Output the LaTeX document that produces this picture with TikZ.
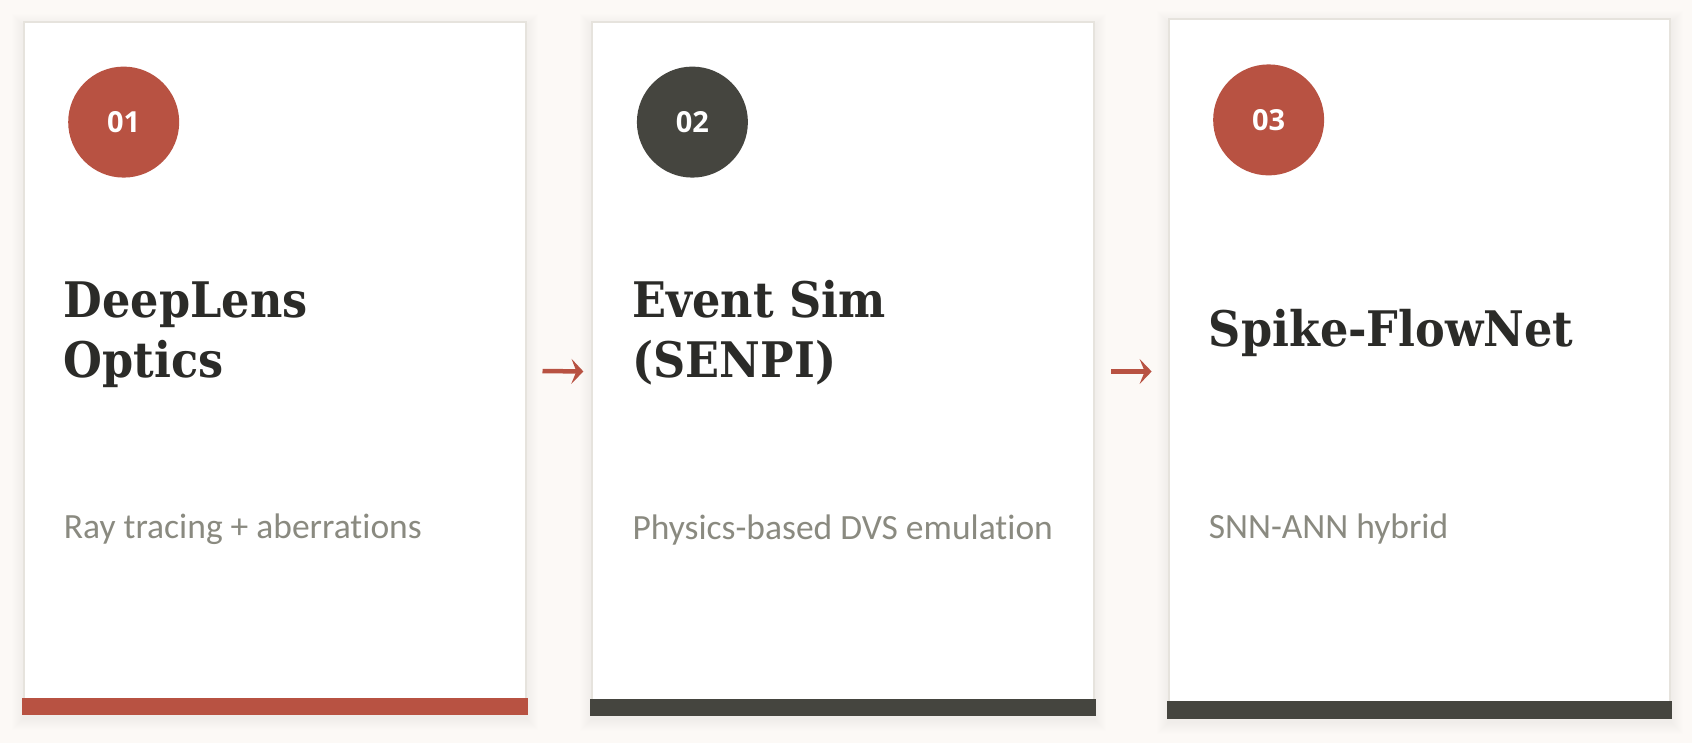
\documentclass[tikz,border=0pt]{standalone}
\usepackage{fontspec}
\setmainfont[FakeStretch=0.91]{DejaVu Serif}
\newfontfamily\numfont{Open Sans}
\newfontfamily\subfont[Ligatures=NoCommon,Contextuals=NoAlternate]{Carlito}
\usetikzlibrary{arrows.meta,calc}

\definecolor{brick}{HTML}{B85242}
\definecolor{slate}{HTML}{45453F}
\definecolor{ink}{HTML}{2B2B28}
\definecolor{stone}{HTML}{8A8A80}
\definecolor{paper}{HTML}{FCF9F6}
\definecolor{rim}{HTML}{E6E3DD}

\tikzset{
  card/.style={rectangle,draw=rim,line width=2pt,fill=white,minimum width=501.8pt,inner sep=0pt},
  badge/.style={circle,fill=#1,minimum size=111pt,inner sep=0pt,text=white,font=\numfont\bfseries\fontsize{29}{35}\selectfont},
  headline/.style={anchor=base west,align=left,text=ink,inner sep=0pt,font=\bfseries\fontsize{49}{59}\selectfont},
  blurb/.style={anchor=base west,text=stone,inner sep=0pt,font=\subfont\fontsize{35.5}{42}\selectfont},
  flow/.style={draw=brick,fill=brick,line width=4.5pt,-{Stealth[length=12pt,width=25pt,inset=5pt]}},
}

\begin{document}
\begin{tikzpicture}[x=1pt,y=-1pt]
  \fill[paper](0,0) rectangle (1692,743);
  % soft shadows under the cards
  \foreach \x/\t/\b in {23.7/21.6/714.4,592.4/21.6/715.4,1168.7/19.4/717.6}
    \foreach \s in {1,...,12}
      \fill[black,opacity=0.005](\x-\s,\t-\s+4) rectangle (\x+501.8+\s,\b+\s+4);
  \node[card,minimum height=692.8pt](c1) at (274.6,368){};
  \node[card,minimum height=693.8pt](c2) at (843.3,368.5){};
  \node[card,minimum height=698.2pt](c3) at (1419.55,368.5){};
  \fill[brick]($(c1.south west)+(-1,-17.5)$) rectangle ($(c1.south east)+(1,0)$);
  \fill[slate]($(c2.south west)+(-1,-17.5)$) rectangle ($(c2.south east)+(1,0)$);
  \fill[slate]($(c3.south west)+(-1,-17.5)$) rectangle ($(c3.south east)+(1,0)$);
  \node[badge=brick](b1) at ($(c1.north west)+(101,101.5)$){01};
  \node[badge=slate](b2) at ($(c2.north west)+(101,101.5)$){02};
  \node[badge=brick](b3) at ($(c3.north west)+(101,101.5)$){03};
  % base of a two-line title is its last line
  \node[headline](t1) at ($(c1.north west)+(41,356.4)$){DeepLens\\Optics};
  \node[headline](t2) at ($(c2.north west)+(41,356.4)$){Event Sim\\(SENPI)};
  \node[headline](t3) at ($(c3.north west)+(41,327.6)$){Spike-FlowNet};
  \node[blurb](d1) at ($(c1.north west)+(41,518)$){Ray tracing + aberrations};
  \node[blurb](d2) at ($(c2.north west)+(41,519)$){Physics-based DVS emulation};
  \node[blurb](d3) at ($(c3.north west)+(41,519.6)$){SNN-ANN hybrid};
  \draw[flow]([shift={(16pt,-3pt)}]c1.east)--([shift={(-8pt,-3pt)}]c2.west);
  \draw[flow]([shift={(16pt,-3pt)}]c2.east)--([shift={(-16pt,-3pt)}]c3.west);
\end{tikzpicture}
\end{document}
